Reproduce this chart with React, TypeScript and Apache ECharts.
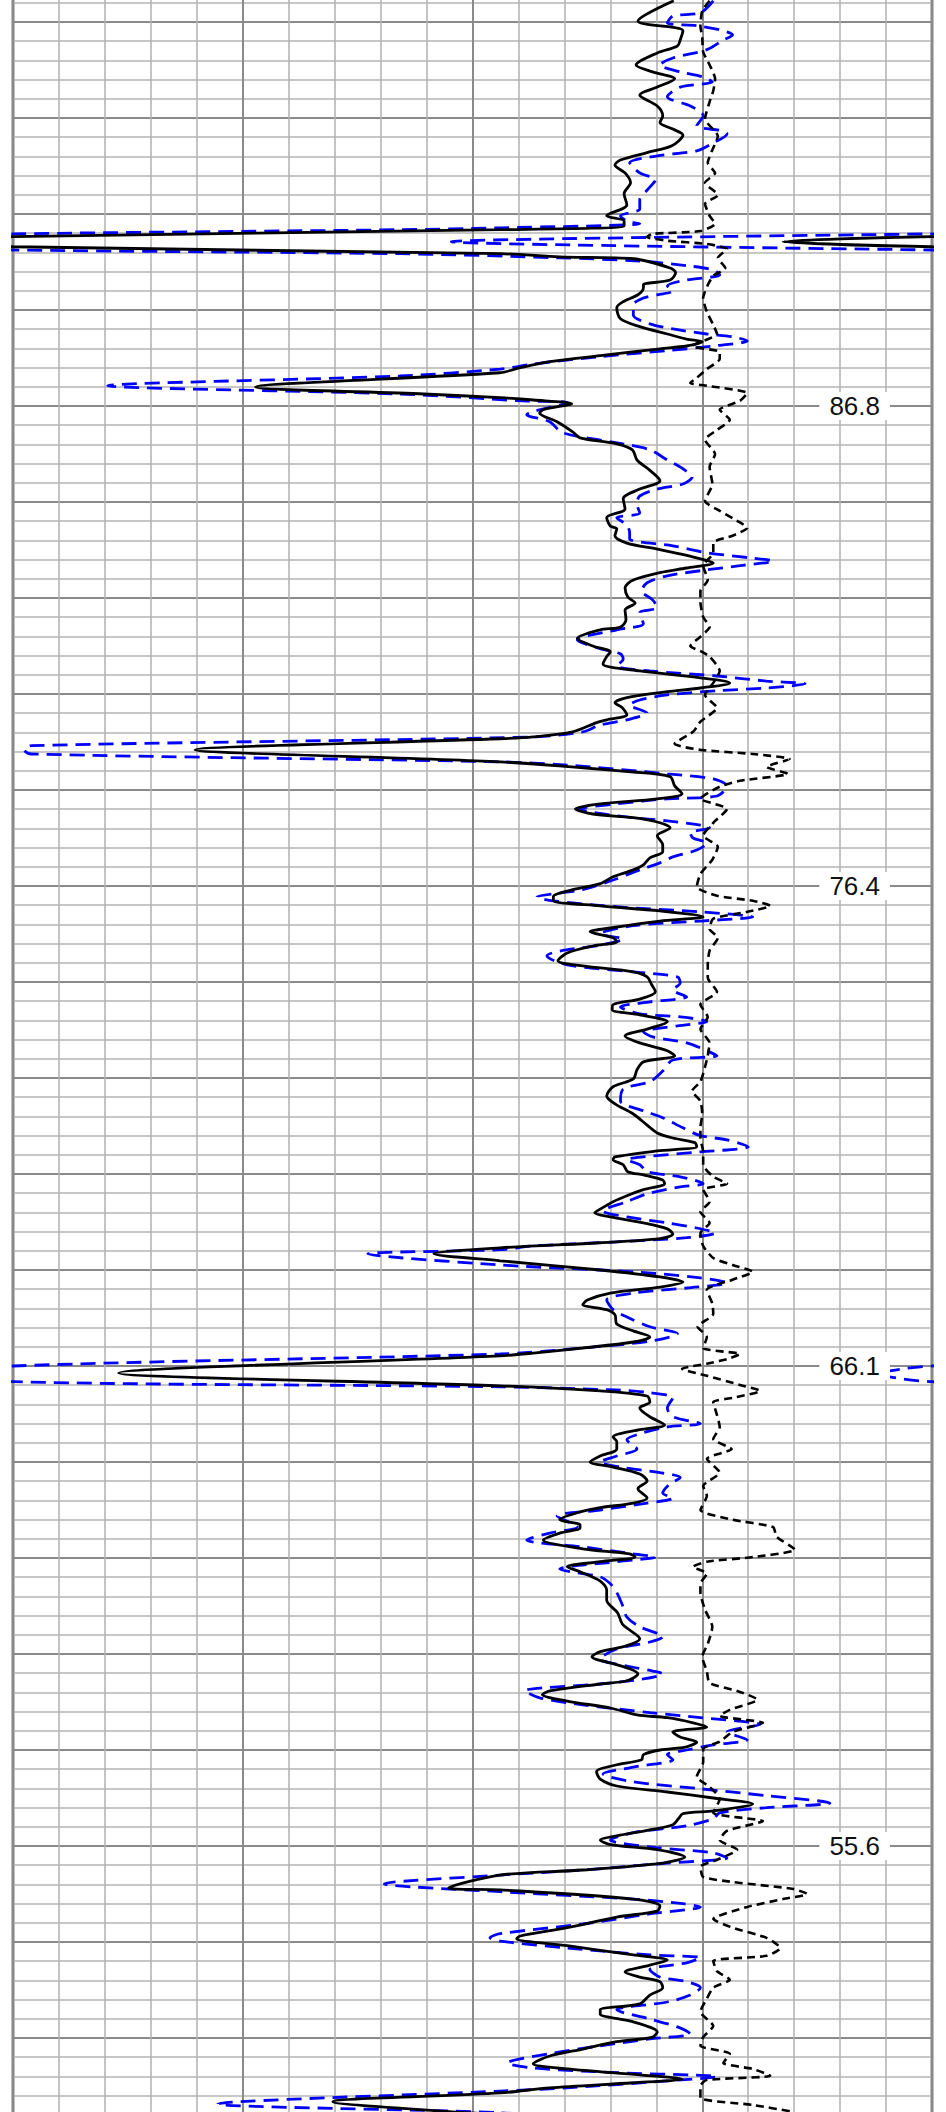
import React, { useEffect, useRef } from 'react';
import * as echarts from 'echarts';

// Track scale (horizontal) and wrap-around width
const X_MIN = 0;
const X_MAX = 100;
const X_MAJOR = 25;
const WRAP = 100;

// Depth scale (vertical)
const DEPTH_MIN = 49.36;
const DEPTH_MAX = 97.2;
const DEPTH_MAJOR = 2.08;
const DEPTH_TICKS = [86.8, 76.4, 66.0, 55.6];
const DEPTH_LABELS = ['86.8', '76.4', '66.1', '55.6'];

// [value, depth]
const solidCurve: [number, number][] = [
  [71.9,95.58],[68.0,95.14],[72.9,94.93],[72.6,94.73],[72.3,94.60],[70.1,94.45],[67.8,94.19],[69.6,94.04],[72.0,93.89],[70.1,93.71],[68.2,93.54],[70.1,93.30],[70.7,93.09],[70.4,92.94],[71.8,92.80],[72.9,92.67],[71.7,92.44],[69.0,92.29],[66.1,92.13],[65.5,92.02],[66.6,91.85],[67.2,91.64],[66.5,91.40],[66.8,91.16],[64.6,90.92],[66.5,90.81],[66.5,90.70],[53.0,90.62],[0,90.47],[-16.2,90.36],[0,90.25],[53.0,90.10],[59.5,90.03],[67.5,89.99],[71.5,89.79],[72.1,89.69],[71.5,89.53],[68.6,89.43],[68.6,89.36],[68.0,89.21],[66.4,89.06],[65.7,88.93],[66.1,88.69],[68.2,88.52],[71.2,88.36],[73.3,88.25],[75.0,88.19],[73.3,88.10],[70.4,88.04],[63.9,87.89],[58.4,87.76],[55.2,87.63],[53.0,87.52],[26.4,87.21],[44.7,87.06],[53.0,86.98],[56.6,86.93],[60.8,86.85],[57.7,86.72],[57.3,86.65],[59.2,86.46],[60.9,86.24],[61.7,86.11],[65.7,85.98],[67.4,85.85],[67.9,85.63],[69.1,85.44],[70.4,85.18],[68.2,85.00],[66.4,84.79],[66.6,84.57],[64.6,84.38],[65.0,84.20],[65.7,84.14],[65.5,83.99],[66.8,83.83],[70.1,83.70],[74.4,83.51],[76.2,83.40],[73.3,83.29],[70.4,83.19],[67.5,83.03],[66.6,82.86],[66.9,82.66],[67.7,82.53],[66.6,82.38],[66.7,82.17],[66.1,82.01],[63.9,81.95],[61.4,81.76],[63.1,81.60],[65.0,81.47],[64.6,81.37],[64.2,81.21],[68.2,81.06],[74.8,80.91],[78.0,80.80],[74.8,80.69],[70.4,80.59],[66.8,80.48],[65.5,80.37],[66.3,80.26],[66.8,80.11],[64.6,80.00],[63.5,79.94],[60.9,79.74],[56.6,79.63],[53.0,79.59],[19.8,79.35],[53.0,79.09],[67.5,78.87],[71.5,78.77],[72.0,78.57],[72.8,78.40],[70.1,78.29],[63.9,78.18],[61.2,78.07],[63.1,77.96],[67.5,77.88],[70.4,77.77],[71.5,77.66],[70.1,77.49],[70.7,77.29],[70.7,77.14],[69.3,77.01],[68.6,76.86],[67.5,76.75],[65.3,76.60],[63.9,76.45],[60.9,76.32],[58.8,76.17],[58.8,76.08],[63.9,75.97],[70.4,75.86],[75.1,75.73],[70.4,75.64],[65.0,75.49],[62.8,75.41],[65.3,75.28],[65.7,75.19],[63.1,75.10],[60.3,74.95],[59.3,74.78],[62.0,74.67],[67.5,74.54],[69.0,74.43],[69.5,74.26],[69.9,74.11],[68.2,73.95],[65.3,73.83],[65.2,73.72],[68.2,73.61],[71.2,73.46],[69.0,73.30],[66.6,73.15],[68.2,73.00],[71.2,72.83],[72.0,72.72],[68.6,72.59],[67.9,72.42],[67.5,72.22],[65.3,72.05],[64.6,71.85],[65.5,71.68],[67.5,71.46],[69.0,71.22],[70.1,71.05],[71.8,70.94],[74.2,70.84],[74.4,70.75],[70.1,70.66],[65.5,70.53],[65.3,70.47],[66.4,70.36],[66.9,70.21],[68.6,70.14],[70.7,70.03],[70.9,69.95],[68.6,69.82],[66.8,69.69],[65.3,69.56],[63.9,69.40],[63.3,69.32],[65.0,69.23],[68.6,69.10],[71.2,68.97],[71.8,68.86],[70.4,68.76],[63.9,68.67],[53.0,68.56],[45.8,68.43],[53.0,68.28],[63.9,68.08],[70.4,67.93],[72.9,67.82],[70.4,67.71],[65.0,67.58],[62.5,67.43],[62.0,67.33],[64.6,67.22],[65.5,67.11],[65.7,66.91],[67.5,66.76],[69.3,66.63],[67.5,66.52],[62.0,66.39],[56.6,66.28],[53.0,66.22],[11.5,65.85],[53.0,65.57],[63.9,65.46],[69.0,65.35],[69.3,65.22],[68.2,65.09],[69.3,64.90],[70.9,64.72],[68.2,64.62],[65.3,64.46],[65.7,64.36],[65.7,64.20],[63.9,64.05],[62.8,63.92],[65.3,63.81],[68.2,63.66],[69.0,63.51],[68.0,63.34],[69.0,63.14],[67.5,63.03],[63.9,62.93],[61.4,62.82],[59.5,62.67],[61.7,62.56],[61.7,62.49],[59.5,62.38],[57.7,62.23],[62.0,62.04],[67.1,61.93],[67.7,61.86],[63.9,61.76],[60.3,61.65],[61.7,61.54],[63.9,61.34],[64.6,61.15],[64.6,60.93],[65.8,60.65],[66.3,60.41],[67.1,60.28],[68.2,60.09],[66.8,59.94],[63.9,59.81],[63.0,59.70],[65.3,59.55],[67.1,59.44],[68.0,59.33],[66.8,59.18],[63.9,59.11],[58.4,58.96],[57.6,58.88],[60.3,58.74],[65.0,58.59],[67.9,58.44],[71.2,58.38],[74.0,58.27],[75.5,58.18],[71.8,58.07],[72.6,57.96],[74.4,57.85],[73.3,57.75],[70.4,57.68],[68.6,57.58],[68.4,57.47],[65.7,57.36],[63.5,57.21],[63.9,57.05],[65.7,56.90],[71.2,56.77],[76.2,56.64],[80.5,56.51],[76.2,56.36],[72.9,56.30],[72.4,56.19],[71.8,56.06],[69.3,55.95],[65.7,55.82],[63.9,55.73],[65.0,55.63],[70.1,55.52],[73.1,55.36],[70.7,55.23],[62.0,55.08],[53.0,54.97],[47.4,54.69],[53.0,54.65],[67.5,54.45],[70.4,54.30],[70.1,54.19],[65.7,54.06],[60.3,53.83],[55.2,53.65],[54.8,53.59],[60.3,53.44],[67.5,53.24],[71.2,53.13],[69.3,53.02],[66.6,52.87],[68.2,52.76],[70.4,52.66],[70.7,52.53],[69.3,52.37],[68.2,52.18],[63.9,52.05],[63.9,51.96],[67.5,51.79],[70.1,51.57],[69.6,51.46],[65.7,51.36],[62.0,51.20],[58.4,51.05],[56.6,50.88],[60.3,50.77],[68.2,50.64],[72.8,50.55],[67.5,50.47],[58.4,50.36],[53.0,50.25],[34.8,50.06],[49.4,49.82],[59.5,49.69]
];

const blueCurve: [number, number][] = [
  [76.2,95.58],[74.8,95.32],[71.8,95.25],[71.2,95.10],[74.4,95.04],[76.9,94.95],[78.3,94.84],[77.3,94.73],[75.5,94.52],[71.8,94.34],[70.4,94.19],[72.6,94.04],[75.1,93.93],[76.1,93.82],[72.6,93.71],[71.2,93.50],[73.7,93.30],[75.1,93.09],[74.4,92.87],[77.3,92.76],[77.7,92.70],[76.2,92.50],[74.4,92.33],[70.1,92.22],[67.1,92.07],[68.2,91.85],[69.9,91.70],[69.1,91.50],[68.2,91.27],[68.2,91.07],[66.1,90.92],[66.8,90.81],[68.2,90.75],[53.0,90.66],[42.1,90.62],[0,90.53],[-52.3,90.36],[0,90.18],[42.1,90.10],[59.5,90.01],[68.2,89.94],[73.3,89.84],[76.2,89.75],[76.9,89.64],[73.3,89.53],[71.2,89.40],[71.8,89.29],[70.1,89.21],[68.6,89.14],[67.5,88.99],[67.5,88.77],[69.3,88.58],[71.8,88.47],[75.5,88.36],[78.3,88.30],[79.9,88.21],[76.2,88.10],[71.2,88.00],[63.9,87.87],[56.6,87.71],[53.0,87.60],[42.1,87.45],[10.3,87.24],[42.1,87.06],[55.5,86.91],[60.3,86.87],[55.9,86.61],[58.4,86.46],[59.8,86.22],[66.4,85.98],[69.3,85.85],[71.2,85.63],[72.9,85.44],[73.9,85.26],[72.9,85.11],[70.1,85.00],[68.2,84.85],[67.9,84.68],[68.2,84.48],[65.7,84.38],[66.8,84.22],[67.1,84.05],[67.1,83.92],[71.8,83.77],[75.5,83.62],[80.2,83.51],[82.7,83.44],[79.1,83.34],[75.5,83.25],[71.2,83.12],[69.0,82.97],[68.4,82.79],[69.6,82.60],[70.1,82.43],[68.2,82.32],[68.6,82.08],[65.7,81.95],[61.4,81.73],[63.9,81.54],[66.1,81.43],[66.4,81.32],[65.7,81.17],[69.3,81.06],[76.6,80.95],[82.0,80.84],[86.2,80.78],[82.0,80.69],[76.6,80.63],[71.2,80.54],[68.2,80.43],[67.1,80.32],[69.0,80.15],[66.8,80.00],[63.9,79.89],[62.0,79.74],[56.6,79.63],[2.0,79.44],[1.2,79.35],[2.0,79.26],[53.0,79.09],[60.3,79.02],[71.2,78.83],[76.2,78.72],[77.7,78.57],[76.6,78.35],[71.2,78.29],[65.7,78.18],[61.7,78.07],[65.7,77.92],[71.2,77.81],[74.8,77.72],[75.8,77.66],[73.7,77.55],[74.0,77.44],[75.5,77.33],[74.4,77.18],[71.8,77.03],[70.4,76.90],[68.2,76.75],[65.3,76.53],[62.0,76.32],[57.0,76.16],[58.8,76.08],[65.7,75.95],[74.8,75.84],[80.5,75.73],[74.8,75.64],[67.5,75.54],[63.9,75.36],[66.4,75.25],[63.9,75.12],[59.5,74.99],[58.1,74.89],[60.3,74.69],[67.5,74.54],[72.3,74.43],[72.6,74.30],[71.8,74.15],[73.3,74.00],[69.3,73.89],[66.1,73.78],[68.2,73.63],[72.9,73.56],[75.5,73.46],[72.3,73.37],[68.6,73.24],[69.6,73.13],[73.3,73.00],[75.5,72.83],[76.6,72.72],[71.8,72.63],[70.7,72.39],[69.3,72.16],[66.4,72.00],[66.1,71.74],[68.6,71.53],[70.7,71.38],[72.9,71.16],[74.8,70.99],[77.7,70.90],[80.0,70.75],[74.8,70.64],[68.6,70.53],[66.8,70.47],[68.2,70.36],[69.0,70.21],[72.6,70.10],[75.1,69.95],[72.6,69.88],[69.0,69.73],[66.8,69.56],[64.2,69.36],[66.8,69.23],[71.2,69.10],[74.4,68.99],[76.4,68.88],[73.3,68.78],[65.7,68.69],[56.6,68.60],[53.0,68.52],[38.6,68.43],[53.0,68.19],[67.5,68.04],[74.8,67.91],[77.7,67.80],[73.3,67.69],[67.5,67.58],[64.6,67.43],[65.3,67.22],[66.8,67.06],[69.3,66.85],[72.3,66.70],[69.3,66.54],[62.0,66.39],[53.0,66.26],[0,66.00],[-5.7,65.83],[0,65.66],[53.0,65.55],[65.7,65.48],[69.3,65.42],[71.8,65.31],[71.2,65.09],[71.8,64.90],[74.8,64.75],[71.2,64.68],[68.2,64.53],[66.8,64.40],[67.9,64.20],[65.7,64.05],[63.9,63.92],[66.1,63.81],[70.4,63.69],[72.6,63.58],[71.5,63.45],[70.7,63.25],[71.8,63.14],[69.0,63.03],[63.9,62.88],[59.2,62.75],[61.4,62.51],[58.4,62.38],[55.9,62.23],[62.0,62.08],[67.5,61.93],[69.9,61.86],[65.7,61.76],[59.5,61.60],[63.9,61.43],[65.0,61.28],[65.7,61.09],[66.4,60.78],[66.8,60.56],[68.2,60.35],[70.7,60.13],[69.3,60.02],[65.7,59.87],[63.9,59.65],[66.8,59.50],[69.6,59.39],[70.7,59.33],[68.6,59.22],[63.9,59.11],[55.7,58.96],[57.3,58.81],[62.0,58.66],[69.3,58.49],[74.8,58.38],[81.3,58.23],[77.7,58.07],[79.9,57.90],[76.2,57.79],[73.3,57.68],[71.2,57.58],[71.8,57.47],[67.5,57.31],[64.2,57.16],[67.5,56.99],[74.8,56.84],[82.0,56.69],[88.9,56.53],[82.0,56.43],[76.9,56.32],[76.2,56.19],[73.3,56.04],[67.5,55.89],[65.0,55.73],[69.3,55.58],[76.2,55.45],[77.7,55.34],[71.2,55.23],[62.0,55.08],[53.0,54.97],[40.4,54.78],[53.0,54.61],[67.5,54.45],[72.9,54.35],[74.8,54.28],[69.3,54.13],[62.0,53.91],[53.0,53.70],[51.9,53.61],[53.0,53.54],[60.3,53.39],[69.3,53.24],[74.8,53.18],[73.3,53.07],[69.3,52.92],[70.4,52.76],[73.3,52.66],[74.8,52.53],[73.7,52.37],[71.2,52.22],[65.7,52.05],[69.3,51.85],[72.3,51.68],[73.7,51.53],[69.3,51.42],[63.9,51.27],[58.4,51.10],[53.8,50.90],[56.6,50.79],[65.7,50.69],[76.6,50.60],[71.2,50.51],[60.3,50.36],[53.0,50.29],[22.3,50.01],[53.0,49.82],[59.5,49.69]
];

const dottedCurve: [number, number][] = [
  [75.8,95.58],[75.0,95.36],[74.8,95.04],[75.0,94.78],[75.1,94.47],[75.8,94.19],[76.4,93.89],[76.2,93.63],[75.8,93.39],[75.3,93.02],[76.7,92.65],[76.1,92.35],[75.6,92.07],[76.4,91.85],[75.3,91.64],[76.7,91.37],[75.3,91.18],[75.8,90.92],[76.4,90.75],[74.8,90.59],[69.6,90.53],[69.0,90.46],[71.2,90.38],[75.5,90.31],[77.7,90.20],[76.7,90.01],[77.5,89.79],[76.2,89.62],[75.6,89.42],[75.1,89.14],[75.5,88.84],[76.2,88.56],[76.6,88.36],[73.9,88.10],[76.9,87.97],[76.9,87.82],[75.5,87.60],[74.4,87.41],[73.7,87.30],[75.5,87.24],[79.9,87.08],[79.1,86.91],[76.9,86.72],[78.0,86.50],[76.6,86.28],[75.3,86.07],[76.4,85.76],[75.8,85.48],[76.1,85.11],[75.3,84.74],[76.9,84.53],[78.8,84.31],[79.9,84.16],[78.3,83.99],[76.2,83.84],[76.2,83.62],[75.1,83.34],[75.6,83.03],[74.8,82.79],[74.8,82.56],[75.1,82.23],[75.8,82.01],[74.8,81.80],[73.7,81.60],[74.8,81.49],[75.8,81.37],[76.9,81.06],[76.2,80.80],[75.3,80.54],[76.6,80.26],[74.8,79.96],[74.0,79.74],[72.0,79.48],[74.8,79.35],[80.5,79.26],[84.5,79.15],[82.0,78.98],[84.3,78.83],[79.1,78.68],[76.9,78.55],[74.8,78.29],[77.7,78.07],[76.2,77.77],[75.1,77.49],[76.7,77.25],[76.1,76.97],[74.8,76.66],[74.4,76.38],[76.6,76.19],[80.5,76.08],[82.4,75.97],[79.9,75.84],[76.2,75.69],[75.8,75.47],[76.7,75.28],[75.8,75.00],[75.6,74.69],[75.6,74.41],[76.6,74.11],[74.8,73.83],[75.6,73.56],[74.8,73.30],[75.8,73.00],[75.6,72.72],[75.3,72.48],[74.8,72.16],[73.9,71.96],[74.8,71.74],[75.0,71.46],[74.8,71.16],[74.8,70.94],[75.1,70.64],[75.1,70.36],[76.2,70.10],[77.7,69.95],[75.1,69.82],[75.8,69.56],[74.8,69.34],[75.8,69.10],[74.8,68.88],[75.1,68.60],[76.2,68.34],[78.3,68.19],[80.5,68.04],[78.3,67.87],[75.5,67.65],[76.1,67.35],[76.2,67.13],[74.5,66.85],[75.5,66.63],[75.1,66.39],[79.1,66.26],[77.7,66.15],[75.5,66.05],[72.8,65.94],[75.5,65.79],[79.1,65.59],[81.3,65.46],[78.3,65.31],[76.2,65.22],[76.6,64.94],[76.9,64.68],[76.2,64.42],[78.2,64.20],[75.5,63.99],[76.9,63.69],[75.1,63.40],[75.5,63.19],[74.8,62.88],[78.3,62.67],[82.7,62.51],[83.1,62.30],[85.1,62.02],[80.5,61.86],[75.5,61.76],[74.0,61.65],[75.5,61.50],[74.8,61.28],[74.8,61.09],[75.3,60.72],[76.1,60.35],[75.6,59.98],[75.0,59.70],[75.5,59.39],[75.8,59.13],[78.8,58.96],[81.0,58.77],[78.0,58.55],[76.9,58.42],[81.6,58.27],[78.3,58.07],[76.9,57.86],[75.1,57.70],[75.1,57.42],[74.4,57.10],[75.8,56.88],[76.9,56.62],[76.2,56.32],[81.6,56.14],[77.7,55.93],[76.9,55.73],[78.8,55.52],[76.6,55.30],[74.8,55.15],[75.1,54.93],[78.3,54.82],[84.9,54.67],[86.4,54.56],[83.8,54.45],[79.9,54.28],[76.2,54.02],[78.3,53.83],[82.0,53.61],[83.5,53.39],[82.0,53.22],[76.2,53.11],[76.6,52.89],[78.0,52.70],[76.2,52.53],[75.5,52.29],[74.8,52.01],[76.2,51.70],[75.1,51.46],[74.8,51.27],[78.0,51.10],[77.3,50.90],[80.5,50.77],[82.4,50.62],[75.5,50.53],[74.8,50.40],[74.8,50.14],[80.5,49.99],[84.9,49.84]
];

const FONT = '"Liberation Sans", Arial, "DejaVu Sans", sans-serif';

function wrapped(curve: [number, number][]): [number, number][] {
  return curve.map(([v, d]) => [v + WRAP, d]);
}

export default function App() {
  const ref = useRef<HTMLDivElement>(null);

  useEffect(() => {
    if (!ref.current) return;
    const chart = echarts.init(ref.current, undefined, { renderer: 'svg' });

    const blueStyle = { color: '#0000ff', width: 2.8, type: [15, 8] as number[] };
    const solidStyle = { color: '#000000', width: 2.8, type: 'solid' as const };
    const dottedStyle = { color: '#000000', width: 2.6, type: [8, 5] as number[] };

    const lineSeries = (data: [number, number][], lineStyle: any, z: number, smooth: number) => ({
      type: 'line',
      data,
      xAxisIndex: 0,
      yAxisIndex: 0,
      symbol: 'none',
      showSymbol: false,
      smooth,
      clip: true,
      lineStyle,
      z,
      silent: true,
    });

    chart.setOption({
      animation: false,
      backgroundColor: '#ffffff',
      textStyle: { fontFamily: FONT },
      grid: {
        left: 13,
        right: 14,
        top: 0,
        bottom: 0,
        show: true,
        borderColor: '#808080',
        borderWidth: 3,
        backgroundColor: 'transparent',
      },
      xAxis: {
        type: 'value',
        min: X_MIN,
        max: X_MAX,
        interval: X_MAJOR,
        axisLine: { show: false },
        axisTick: { show: false },
        axisLabel: { show: false },
        splitLine: { show: true, lineStyle: { color: '#8a8a8a', width: 2 } },
        minorTick: { show: false, splitNumber: 5 },
        minorSplitLine: { show: true, lineStyle: { color: '#b0b0b0', width: 1.5 } },
      },
      yAxis: [
        {
          type: 'value',
          min: DEPTH_MIN,
          max: DEPTH_MAX,
          interval: DEPTH_MAJOR,
          position: 'left',
          axisLine: { show: false },
          axisTick: { show: false },
          axisLabel: { show: false },
          splitLine: { show: true, lineStyle: { color: '#8a8a8a', width: 2.2 } },
          minorTick: { show: false, splitNumber: 5 },
          minorSplitLine: { show: true, lineStyle: { color: '#b4b4b4', width: 1.5 } },
        },
        {
          type: 'value',
          min: DEPTH_MIN,
          max: DEPTH_MAX,
          interval: DEPTH_MAJOR,
          position: 'right',
          z: 10,
          axisLine: { show: false },
          axisTick: { show: false },
          splitLine: { show: false },
          axisLabel: {
            show: true,
            inside: true,
            margin: 42,
            formatter: (v: number) => {
              const i = DEPTH_TICKS.findIndex((t) => Math.abs(t - v) < 0.01);
              return i >= 0 ? `{b|${DEPTH_LABELS[i]}}` : '';
            },
            rich: {
              b: {
                backgroundColor: '#ffffff',
                padding: [1, 10, 1, 10],
                fontSize: 26,
                lineHeight: 25,
                color: '#111111',
                fontFamily: FONT,
              },
            },
          },
        },
      ],
      series: [
        lineSeries(blueCurve, blueStyle, 2, 0.3),
        lineSeries(wrapped(blueCurve), blueStyle, 2, 0.3),
        lineSeries(dottedCurve, dottedStyle, 3, 0.2),
        lineSeries(solidCurve, solidStyle, 4, 0.3),
        lineSeries(wrapped(solidCurve), solidStyle, 4, 0.3),
      ],
    });

    return () => chart.dispose();
  }, []);

  return (
    <div
      ref={ref}
      style={{ position: 'absolute', left: 0, top: -74, width: 946, height: 2208, background: '#fff' }}
    />
  );
}
